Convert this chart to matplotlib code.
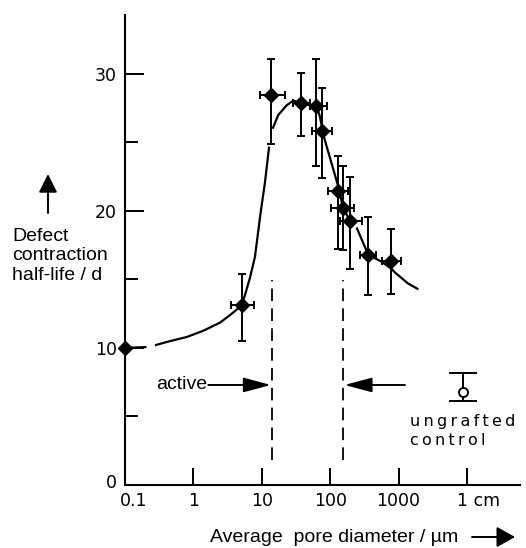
## Pore size vs. defect contraction half-life
# Recreation of a scanned figure: log x axis, hand-drawn trend curve,
# error bars in both directions, ungrafted control as an open symbol

import numpy as np
import matplotlib.pyplot as plt
import matplotlib.transforms as mtransforms
from matplotlib.patches import FancyArrowPatch

## Data
# Measured points (pore diameter in um, half-life in days)
pore_um = [5.1, 13.8, 38, 63, 75, 131, 155, 195, 360, 775]
half_life = [13.14, 28.47, 27.86, 27.66, 25.8, 21.46, 20.2, 19.27, 16.79, 16.37]
hl_high = [15.4, 31.1, 30.05, 31.1, 29.0, 24.0, 23.3, 22.5, 19.54, 18.66]
hl_low = [10.5, 24.9, 25.47, 23.3, 22.4, 17.2, 17.15, 15.74, 13.87, 13.92]
pore_low = [3.6, 9.4, 28.8, 50, 53.5, 93.6, 102, 139, 270, 563]
pore_high = [7.7, 21.8, 50, 89, 105, 183, 224, 288, 467, 1080]

# Point sitting on the y axis
first_pore = [0.1]
first_hl = [10.0]

# Ungrafted control
control_pore = [8700]
control_hl = [6.8]
control_high = [8.2]
control_low = [6.1]

# Hand drawn curve, traced in pieces (gaps as in the original)
curve_a_x = [0.1, 0.206]
curve_a_y = [10.0, 10.07]
curve_b_x = [0.275, 0.455, 0.80, 1.40, 2.45, 3.43, 4.3, 5.1, 5.68, 6.7,
             7.95, 9.73, 11.1, 12.8]
curve_b_y = [10.2, 10.5, 10.8, 11.26, 11.85, 12.4, 12.8, 13.14, 13.87, 15.1,
             16.66, 20.07, 22.04, 24.7]
curve_c_x = [14.4, 17.4, 23, 28.8, 38, 50, 63, 70.6, 81, 131, 155, 195]
curve_c_y = [26.0, 27.0, 27.7, 28.05, 27.86, 27.7, 27.66, 26.9, 25.4, 21.8, 20.2, 19.27]
curve_d_x = [243, 360, 563, 775, 890, 1380, 1950]
curve_d_y = [18.8, 16.8, 16.3, 15.8, 15.5, 14.7, 14.28]

# Boundaries of the active range
active_bounds = [13.9, 152]
active_top = 14.96
active_bottom = 1.82

# Axis ticks
x_ticks = [0.1, 1, 10, 100, 1000, 10000]
x_tick_labels = ["0.1", "1", "10", "100", "1000", "1 cm"]
y_ticks = [0, 10, 20, 30]
y_minor = [5, 15, 25]

## Figure
W, H = 526, 548
fig = plt.figure(figsize=(W / 100, H / 100), dpi=100)
ax = fig.add_axes([125 / W, 63 / H, 395 / W, 470 / H])

ax.set_xscale("log")
ax.set_xlim(0.1, 59600)
ax.set_ylim(0, 34.3)

for side in ["top", "right"]:
    ax.spines[side].set_visible(False)
for side in ["left", "bottom"]:
    ax.spines[side].set_linewidth(1.5)

# Curve pieces
for cx, cy in [(curve_a_x, curve_a_y), (curve_b_x, curve_b_y),
               (curve_c_x, curve_c_y), (curve_d_x, curve_d_y)]:
    ax.plot(cx, cy, color="black", lw=1.6, solid_capstyle="butt",
            solid_joinstyle="round")

# Measured points with error bars
x = np.array(pore_um)
y = np.array(half_life)
yerr = [y - np.array(hl_low), np.array(hl_high) - y]
xerr = [x - np.array(pore_low), np.array(pore_high) - x]
ax.errorbar(x, y, yerr=yerr, xerr=xerr, fmt="D", color="black", ms=7,
            elinewidth=1.4, capsize=3, capthick=1.4, zorder=3)
ax.plot(first_pore, first_hl, "D", color="black", ms=7, clip_on=False,
        zorder=4)

# Ungrafted control
cy = np.array(control_hl)
ax.errorbar(control_pore, control_hl,
            yerr=[cy - np.array(control_low), np.array(control_high) - cy],
            fmt="o", color="black", mfc="white", ms=6.5, mew=1.4,
            elinewidth=1.4, capsize=10, capthick=1.4, zorder=3)
ax.text(1468, 5.2, "u\u2009n\u2009g\u2009r\u2009a\u2009f\u2009t\u2009e\u2009d\n"
        "c\u2009o\u2009n\u2009t\u2009r\u2009o\u2009l",
        fontsize=11.5, family="DejaVu Sans", ha="left", va="top",
        linespacing=1.35)

# Active range markers
for b in active_bounds:
    ax.plot([b, b], [active_bottom, active_top], color="black", lw=1.3,
            dashes=(7, 4))

ax.text(1.6, 7.3, "active", fontsize=14, family="Liberation Sans",
        ha="right", va="center")
ax.annotate("", xy=(13.6, 7.3), xytext=(1.65, 7.3),
            arrowprops=dict(arrowstyle="-|>,head_length=1.2,head_width=0.32",
                            color="black", lw=1.4, shrinkA=0, shrinkB=0,
                            mutation_scale=14))
ax.annotate("", xy=(162, 7.3), xytext=(1240, 7.3),
            arrowprops=dict(arrowstyle="-|>,head_length=1.2,head_width=0.32",
                            color="black", lw=1.4, shrinkA=0, shrinkB=0,
                            mutation_scale=14))

# Ticks
ax.set_xticks(x_ticks)
ax.set_xticklabels(x_tick_labels, family="DejaVu Sans", fontsize=12.5)
ax.xaxis.set_minor_locator(plt.NullLocator())
ax.tick_params(axis="x", direction="in", length=12, width=1.4, pad=5)
ax.set_yticks(y_ticks)
ax.set_yticklabels([str(v) for v in y_ticks], family="DejaVu Sans",
                   fontsize=12.5)
ax.set_yticks(y_minor, minor=True)
ax.tick_params(axis="y", which="major", direction="in", length=14,
               width=1.4, pad=6)
ax.tick_params(axis="y", which="minor", direction="in", length=9,
               width=1.4)

# Nudge a few labels like in the original
xlabels = ax.get_xticklabels()
xlabels[0].set_transform(xlabels[0].get_transform() +
                         mtransforms.ScaledTranslation(6 / 72, 0, fig.dpi_scale_trans))
xlabels[-1].set_transform(xlabels[-1].get_transform() +
                          mtransforms.ScaledTranslation(8 / 72, 0, fig.dpi_scale_trans))
ylabels = ax.get_yticklabels()
ylabels[0].set_transform(ylabels[0].get_transform() +
                         mtransforms.ScaledTranslation(0, 3 / 72, fig.dpi_scale_trans))

# Axis labels as free text with arrows
fig.text(12 / W, 1 - 228 / H, "Defect\ncontraction\nhalf-life / d",
         fontsize=14, family="Liberation Sans", ha="left", va="top",
         linespacing=1.18)
fig.add_artist(FancyArrowPatch((48 / W, 1 - 213 / H), (48 / W, 1 - 174 / H),
                               transform=fig.transFigure,
                               arrowstyle="-|>,head_length=0.8,head_width=0.4",
                               mutation_scale=14, color="black", lw=1.4,
                               shrinkA=0, shrinkB=0))
fig.text(210 / W, 1 - 537.5 / H, "Average  pore diameter / \u00b5m",
         fontsize=14, family="Liberation Sans", ha="left", va="center")
fig.add_artist(FancyArrowPatch((472 / W, 1 - 537 / H), (515 / W, 1 - 537 / H),
                               transform=fig.transFigure,
                               arrowstyle="-|>,head_length=0.8,head_width=0.45",
                               mutation_scale=14, color="black", lw=1.4,
                               shrinkA=0, shrinkB=0))

fig.savefig("out.png", dpi=100)
